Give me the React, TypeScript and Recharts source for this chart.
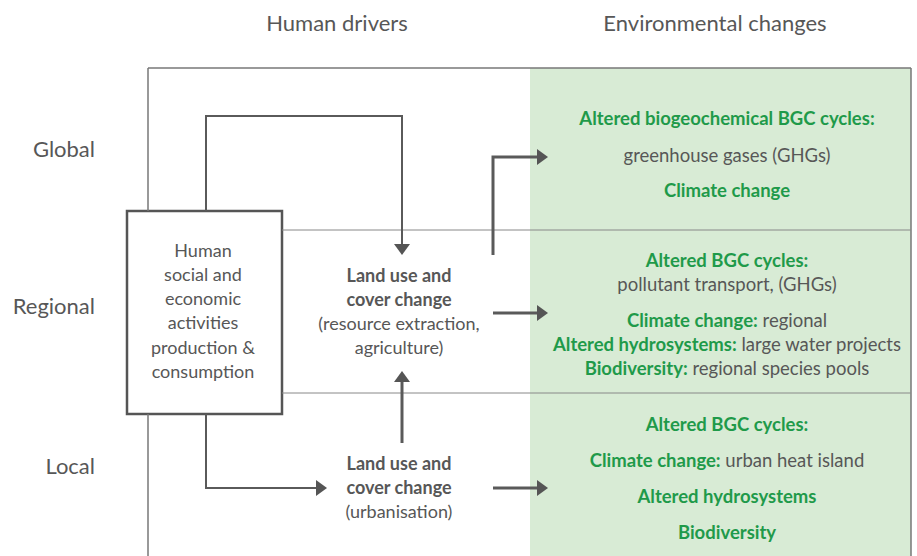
import { ComposedChart, XAxis, YAxis, Line, Scatter, ReferenceArea, ReferenceLine } from 'recharts'

const W = 917
const H = 556
const FONT = 'Lato, "Open Sans", sans-serif'
const GRAY = '#575757'
const GREEN = '#1f9a4a'

// diagram plane, one unit = one pixel of the picture, y grows downward
const headers = [
  { x: 337, y: 22, label: 'Human drivers' },
  { x: 715, y: 22, label: 'Environmental changes' },
]
const levels = ['Global', 'Regional', 'Local']
const levelY = [148, 305, 465]

const frame = { left: 148, top: 68, right: 911, bottom: 556 }
const envLeft = 530
const rowDividers = [230, 393]
const driverBox = { x1: 127, x2: 282, y1: 211, y2: 414 }

const driverLines = ['Human', 'social and', 'economic', 'activities', 'production &', 'consumption']
const driverLineY = [250, 274, 298, 322, 347, 371]

const landUseRegional = ['Land use and', 'cover change', '(resource extraction,', 'agriculture)']
const landUseRegionalY = [275, 299, 323, 347]
const landUseLocal = ['Land use and', 'cover change', '(urbanisation)']
const landUseLocalY = [463, 487, 511]

// [green label, gray text]
const envGlobal: [string, string][] = [
  ['Altered biogeochemical BGC cycles:', ''],
  ['', 'greenhouse gases (GHGs)'],
  ['Climate change', ''],
]
const envGlobalY = [118, 155, 190]
const envRegional: [string, string][] = [
  ['Altered BGC cycles:', ''],
  ['', 'pollutant transport, (GHGs)'],
  ['Climate change:', 'regional'],
  ['Altered hydrosystems:', 'large water projects'],
  ['Biodiversity:', 'regional species pools'],
]
const envRegionalY = [260, 284, 320, 344, 368]
const envLocal: [string, string][] = [
  ['Altered BGC cycles:', ''],
  ['Climate change:', 'urban heat island'],
  ['Altered hydrosystems', ''],
  ['Biodiversity', ''],
]
const envLocalY = [424, 460, 496, 532]

const connectors = [
  { pts: [[206, 211], [206, 116], [402, 116], [402, 247]], w: 2 },
  { pts: [[206, 414], [206, 488], [318, 488]], w: 2 },
  { pts: [[402, 443], [402, 380]], w: 3 },
  { pts: [[493, 255], [493, 157], [538, 157]], w: 3 },
  { pts: [[493, 313], [538, 313]], w: 3 },
  { pts: [[493, 488], [538, 488]], w: 3 },
]
const arrowTips = [
  { x: 402, y: 255, dir: 'down' },
  { x: 327, y: 488, dir: 'right' },
  { x: 402, y: 371, dir: 'up' },
  { x: 548, y: 157, dir: 'right' },
  { x: 548, y: 313, dir: 'right' },
  { x: 548, y: 488, dir: 'right' },
]

type Part = { t: string; color: string; bold?: boolean }
type Label = { x: number; y: number; size: number; anchor: string; parts: Part[] }

const labels: Label[] = [
  ...headers.map((h) => ({ x: h.x, y: h.y, size: 22, anchor: 'middle', parts: [{ t: h.label, color: GRAY }] })),
  ...levels.map((l, i) => ({ x: 95, y: levelY[i], size: 22, anchor: 'end', parts: [{ t: l, color: GRAY }] })),
  ...driverLines.map((l, i) => ({ x: 203, y: driverLineY[i], size: 18, anchor: 'middle', parts: [{ t: l, color: GRAY }] })),
  ...landUseRegional.map((l, i) => ({
    x: 399, y: landUseRegionalY[i], size: 18, anchor: 'middle', parts: [{ t: l, color: GRAY, bold: i < 2 }],
  })),
  ...landUseLocal.map((l, i) => ({
    x: 399, y: landUseLocalY[i], size: 18, anchor: 'middle', parts: [{ t: l, color: GRAY, bold: i < 2 }],
  })),
  ...[
    [envGlobal, envGlobalY],
    [envRegional, envRegionalY],
    [envLocal, envLocalY],
  ].flatMap(([rows, ys]) =>
    (rows as [string, string][]).map(([g, t], i) => ({
      x: 727,
      y: (ys as number[])[i],
      size: 18.5,
      anchor: 'middle',
      parts: [
        ...(g ? [{ t: g, color: GREEN, bold: true }] : []),
        ...(t ? [{ t: (g ? ' ' : '') + t, color: GRAY }] : []),
      ],
    }))
  ),
]

const TextShape = (props: any) => {
  const { cx, cy, payload } = props
  return (
    <text x={cx} y={cy} textAnchor={payload.anchor} dominantBaseline="central" fontSize={payload.size} fontFamily={FONT}>
      {payload.parts.map((p: Part, i: number) => (
        <tspan key={i} fill={p.color} fontWeight={p.bold ? 700 : 400}>{p.t}</tspan>
      ))}
    </text>
  )
}

const ArrowShape = (props: any) => {
  const { cx, cy, payload } = props
  const len = 11
  const half = 8
  let d = ''
  if (payload.dir === 'right') d = `M${cx},${cy} L${cx - len},${cy - half} L${cx - len},${cy + half} Z`
  if (payload.dir === 'down') d = `M${cx},${cy} L${cx - half},${cy - len} L${cx + half},${cy - len} Z`
  if (payload.dir === 'up') d = `M${cx},${cy} L${cx - half},${cy + len} L${cx + half},${cy + len} Z`
  return <path d={d} fill="#555" />
}

export default function App() {
  return (
    <div style={{ position: 'absolute', left: 0, top: 0, width: W, height: H, background: '#fff' }}>
      <ComposedChart width={W} height={H} margin={{ top: 0, right: 0, bottom: 0, left: 0 }}>
        <XAxis type="number" dataKey="x" domain={[0, W]} hide allowDataOverflow />
        <YAxis type="number" dataKey="y" domain={[0, H]} reversed hide allowDataOverflow />
        <ReferenceArea x1={envLeft} x2={frame.right} y1={frame.top} y2={frame.bottom} fill="#d8ebd5" fillOpacity={1} stroke="none" />
        <ReferenceLine segment={[{ x: frame.left, y: frame.top }, { x: frame.right, y: frame.top }]} stroke="#777" strokeWidth={1.5} />
        <ReferenceLine segment={[{ x: frame.right, y: frame.top }, { x: frame.right, y: frame.bottom }]} stroke="#777" strokeWidth={1.5} />
        <ReferenceLine segment={[{ x: frame.left, y: frame.top }, { x: frame.left, y: driverBox.y1 }]} stroke="#777" strokeWidth={1.5} />
        <ReferenceLine segment={[{ x: frame.left, y: driverBox.y2 }, { x: frame.left, y: frame.bottom }]} stroke="#777" strokeWidth={1.5} />
        {rowDividers.map((y) => (
          <ReferenceLine key={y} segment={[{ x: driverBox.x2, y }, { x: frame.right, y }]} stroke="#888" strokeWidth={1} />
        ))}
        <ReferenceArea x1={driverBox.x1} x2={driverBox.x2} y1={driverBox.y1} y2={driverBox.y2} fill="#fff" fillOpacity={1} stroke="#555" strokeWidth={2.5} />
        {connectors.map((c, i) => (
          <Line
            key={i}
            data={c.pts.map(([x, y]) => ({ x, y }))}
            dataKey="y"
            type="linear"
            stroke="#5a5a5a"
            strokeWidth={c.w}
            dot={false}
            activeDot={false}
            isAnimationActive={false}
          />
        ))}
        <Scatter data={arrowTips} dataKey="y" shape={ArrowShape} isAnimationActive={false} />
        <Scatter data={labels} dataKey="y" shape={TextShape} isAnimationActive={false} />
      </ComposedChart>
    </div>
  )
}
